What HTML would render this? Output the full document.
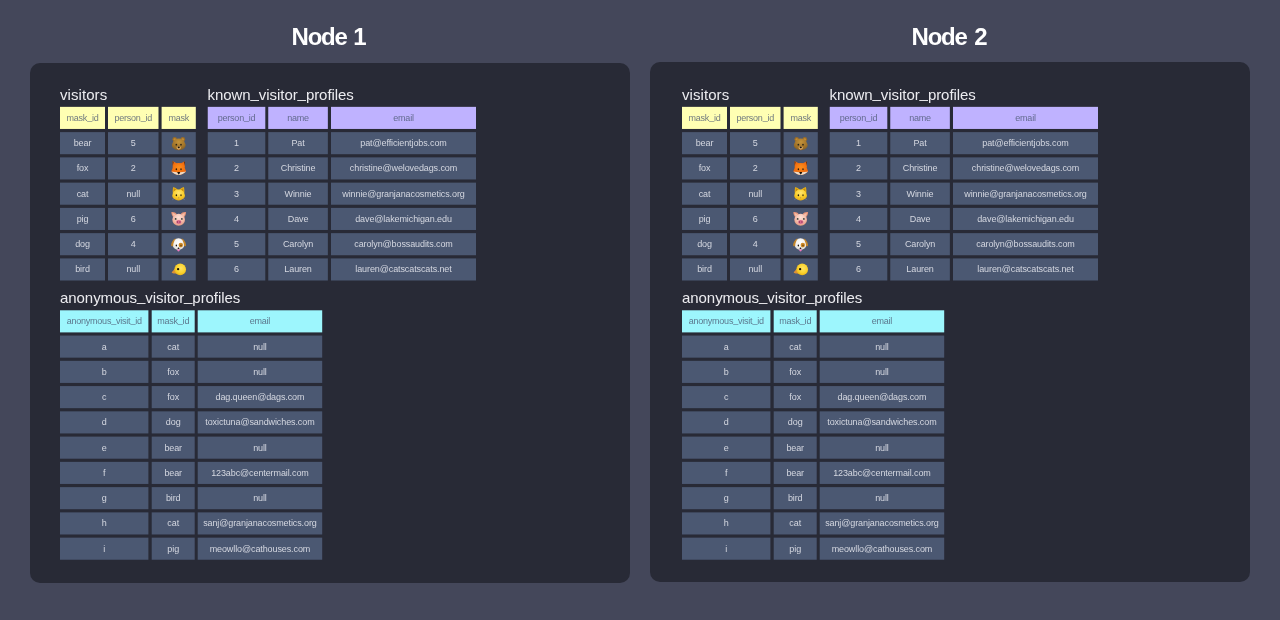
<!DOCTYPE html>
<html lang="en"><head><meta charset="utf-8"><title>Nodes</title>
<style>
*{box-sizing:border-box;margin:0;padding:0}
html,body{width:1280px;height:620px;overflow:hidden}
body{background:#44475a;font-family:"Liberation Sans",sans-serif;position:relative}
svg.bg{position:absolute;left:0;top:0;width:1280px;height:620px}
.node{position:absolute;font-weight:bold;font-size:24px;line-height:30px;color:#fff;letter-spacing:-1.2px;white-space:nowrap}
.t{position:absolute;font-size:15px;line-height:18px;color:#ececf0;white-space:nowrap;letter-spacing:-.06px}
.c{position:absolute;height:22px;line-height:22px;text-align:center;font-size:9px;white-space:nowrap;overflow:hidden}
.d{color:#d4d7e0;letter-spacing:-.1px}
.h{color:rgba(75,88,114,.8);letter-spacing:-.22px}
.u{position:relative;top:-1px}
.t .u{top:-1.7px}
</style></head>
<body>
<svg class="bg" viewBox="0 0 1280 620">
<defs>
<radialGradient id="gBear" cx=".5" cy=".3" r=".75"><stop offset="0" stop-color="#c4933a"/><stop offset=".6" stop-color="#a2742a"/><stop offset="1" stop-color="#7d5a22"/></radialGradient>
<radialGradient id="gFox" cx=".5" cy=".35" r=".7"><stop offset="0" stop-color="#fb8f1c"/><stop offset=".6" stop-color="#f4700f"/><stop offset="1" stop-color="#d9560c"/></radialGradient>
<radialGradient id="gCat" cx=".5" cy=".3" r=".75"><stop offset="0" stop-color="#ffe672"/><stop offset=".55" stop-color="#fbcf2a"/><stop offset="1" stop-color="#e0a412"/></radialGradient>
<radialGradient id="gPig" cx=".5" cy=".3" r=".75"><stop offset="0" stop-color="#fde3d8"/><stop offset=".6" stop-color="#f4b9a6"/><stop offset="1" stop-color="#e0927a"/></radialGradient>
<radialGradient id="gDog" cx=".5" cy=".35" r=".7"><stop offset="0" stop-color="#ffffff"/><stop offset=".65" stop-color="#f1eeea"/><stop offset="1" stop-color="#c9c2ba"/></radialGradient>
<radialGradient id="gBird" cx=".55" cy=".4" r=".65"><stop offset="0" stop-color="#ffe563"/><stop offset=".6" stop-color="#fbd22d"/><stop offset="1" stop-color="#e6ac12"/></radialGradient>
</defs>
<rect x="30" y="63" width="600" height="520" rx="10" ry="10" fill="#282a36"/>
<rect x="60.00" y="106.85" width="45.00" height="22.1" fill="#ffffb3"/>
<rect x="108.00" y="106.85" width="50.50" height="22.1" fill="#ffffb3"/>
<rect x="161.60" y="106.85" width="34.20" height="22.1" fill="#ffffb3"/>
<rect x="60.00" y="132.11" width="45.00" height="22.1" fill="#4b5872"/>
<rect x="108.00" y="132.11" width="50.50" height="22.1" fill="#4b5872"/>
<rect x="161.60" y="132.11" width="34.20" height="22.1" fill="#4b5872"/>
<rect x="60.00" y="157.37" width="45.00" height="22.1" fill="#4b5872"/>
<rect x="108.00" y="157.37" width="50.50" height="22.1" fill="#4b5872"/>
<rect x="161.60" y="157.37" width="34.20" height="22.1" fill="#4b5872"/>
<rect x="60.00" y="182.63" width="45.00" height="22.1" fill="#4b5872"/>
<rect x="108.00" y="182.63" width="50.50" height="22.1" fill="#4b5872"/>
<rect x="161.60" y="182.63" width="34.20" height="22.1" fill="#4b5872"/>
<rect x="60.00" y="207.89" width="45.00" height="22.1" fill="#4b5872"/>
<rect x="108.00" y="207.89" width="50.50" height="22.1" fill="#4b5872"/>
<rect x="161.60" y="207.89" width="34.20" height="22.1" fill="#4b5872"/>
<rect x="60.00" y="233.15" width="45.00" height="22.1" fill="#4b5872"/>
<rect x="108.00" y="233.15" width="50.50" height="22.1" fill="#4b5872"/>
<rect x="161.60" y="233.15" width="34.20" height="22.1" fill="#4b5872"/>
<rect x="60.00" y="258.41" width="45.00" height="22.1" fill="#4b5872"/>
<rect x="108.00" y="258.41" width="50.50" height="22.1" fill="#4b5872"/>
<rect x="161.60" y="258.41" width="34.20" height="22.1" fill="#4b5872"/>
<rect x="207.75" y="106.85" width="57.55" height="22.1" fill="#bfb2ff"/>
<rect x="268.25" y="106.85" width="59.60" height="22.1" fill="#bfb2ff"/>
<rect x="331.00" y="106.85" width="145.00" height="22.1" fill="#bfb2ff"/>
<rect x="207.75" y="132.11" width="57.55" height="22.1" fill="#4b5872"/>
<rect x="268.25" y="132.11" width="59.60" height="22.1" fill="#4b5872"/>
<rect x="331.00" y="132.11" width="145.00" height="22.1" fill="#4b5872"/>
<rect x="207.75" y="157.37" width="57.55" height="22.1" fill="#4b5872"/>
<rect x="268.25" y="157.37" width="59.60" height="22.1" fill="#4b5872"/>
<rect x="331.00" y="157.37" width="145.00" height="22.1" fill="#4b5872"/>
<rect x="207.75" y="182.63" width="57.55" height="22.1" fill="#4b5872"/>
<rect x="268.25" y="182.63" width="59.60" height="22.1" fill="#4b5872"/>
<rect x="331.00" y="182.63" width="145.00" height="22.1" fill="#4b5872"/>
<rect x="207.75" y="207.89" width="57.55" height="22.1" fill="#4b5872"/>
<rect x="268.25" y="207.89" width="59.60" height="22.1" fill="#4b5872"/>
<rect x="331.00" y="207.89" width="145.00" height="22.1" fill="#4b5872"/>
<rect x="207.75" y="233.15" width="57.55" height="22.1" fill="#4b5872"/>
<rect x="268.25" y="233.15" width="59.60" height="22.1" fill="#4b5872"/>
<rect x="331.00" y="233.15" width="145.00" height="22.1" fill="#4b5872"/>
<rect x="207.75" y="258.41" width="57.55" height="22.1" fill="#4b5872"/>
<rect x="268.25" y="258.41" width="59.60" height="22.1" fill="#4b5872"/>
<rect x="331.00" y="258.41" width="145.00" height="22.1" fill="#4b5872"/>
<rect x="60.00" y="310.30" width="88.40" height="22.1" fill="#9df6fd"/>
<rect x="151.70" y="310.30" width="43.00" height="22.1" fill="#9df6fd"/>
<rect x="197.70" y="310.30" width="124.50" height="22.1" fill="#9df6fd"/>
<rect x="60.00" y="335.56" width="88.40" height="22.1" fill="#4b5872"/>
<rect x="151.70" y="335.56" width="43.00" height="22.1" fill="#4b5872"/>
<rect x="197.70" y="335.56" width="124.50" height="22.1" fill="#4b5872"/>
<rect x="60.00" y="360.82" width="88.40" height="22.1" fill="#4b5872"/>
<rect x="151.70" y="360.82" width="43.00" height="22.1" fill="#4b5872"/>
<rect x="197.70" y="360.82" width="124.50" height="22.1" fill="#4b5872"/>
<rect x="60.00" y="386.08" width="88.40" height="22.1" fill="#4b5872"/>
<rect x="151.70" y="386.08" width="43.00" height="22.1" fill="#4b5872"/>
<rect x="197.70" y="386.08" width="124.50" height="22.1" fill="#4b5872"/>
<rect x="60.00" y="411.34" width="88.40" height="22.1" fill="#4b5872"/>
<rect x="151.70" y="411.34" width="43.00" height="22.1" fill="#4b5872"/>
<rect x="197.70" y="411.34" width="124.50" height="22.1" fill="#4b5872"/>
<rect x="60.00" y="436.60" width="88.40" height="22.1" fill="#4b5872"/>
<rect x="151.70" y="436.60" width="43.00" height="22.1" fill="#4b5872"/>
<rect x="197.70" y="436.60" width="124.50" height="22.1" fill="#4b5872"/>
<rect x="60.00" y="461.86" width="88.40" height="22.1" fill="#4b5872"/>
<rect x="151.70" y="461.86" width="43.00" height="22.1" fill="#4b5872"/>
<rect x="197.70" y="461.86" width="124.50" height="22.1" fill="#4b5872"/>
<rect x="60.00" y="487.12" width="88.40" height="22.1" fill="#4b5872"/>
<rect x="151.70" y="487.12" width="43.00" height="22.1" fill="#4b5872"/>
<rect x="197.70" y="487.12" width="124.50" height="22.1" fill="#4b5872"/>
<rect x="60.00" y="512.38" width="88.40" height="22.1" fill="#4b5872"/>
<rect x="151.70" y="512.38" width="43.00" height="22.1" fill="#4b5872"/>
<rect x="197.70" y="512.38" width="124.50" height="22.1" fill="#4b5872"/>
<rect x="60.00" y="537.64" width="88.40" height="22.1" fill="#4b5872"/>
<rect x="151.70" y="537.64" width="43.00" height="22.1" fill="#4b5872"/>
<rect x="197.70" y="537.64" width="124.50" height="22.1" fill="#4b5872"/>
<rect x="650" y="62" width="600" height="520" rx="10" ry="10" fill="#282a36"/>
<rect x="682.00" y="106.85" width="45.00" height="22.1" fill="#ffffb3"/>
<rect x="730.00" y="106.85" width="50.50" height="22.1" fill="#ffffb3"/>
<rect x="783.60" y="106.85" width="34.20" height="22.1" fill="#ffffb3"/>
<rect x="682.00" y="132.11" width="45.00" height="22.1" fill="#4b5872"/>
<rect x="730.00" y="132.11" width="50.50" height="22.1" fill="#4b5872"/>
<rect x="783.60" y="132.11" width="34.20" height="22.1" fill="#4b5872"/>
<rect x="682.00" y="157.37" width="45.00" height="22.1" fill="#4b5872"/>
<rect x="730.00" y="157.37" width="50.50" height="22.1" fill="#4b5872"/>
<rect x="783.60" y="157.37" width="34.20" height="22.1" fill="#4b5872"/>
<rect x="682.00" y="182.63" width="45.00" height="22.1" fill="#4b5872"/>
<rect x="730.00" y="182.63" width="50.50" height="22.1" fill="#4b5872"/>
<rect x="783.60" y="182.63" width="34.20" height="22.1" fill="#4b5872"/>
<rect x="682.00" y="207.89" width="45.00" height="22.1" fill="#4b5872"/>
<rect x="730.00" y="207.89" width="50.50" height="22.1" fill="#4b5872"/>
<rect x="783.60" y="207.89" width="34.20" height="22.1" fill="#4b5872"/>
<rect x="682.00" y="233.15" width="45.00" height="22.1" fill="#4b5872"/>
<rect x="730.00" y="233.15" width="50.50" height="22.1" fill="#4b5872"/>
<rect x="783.60" y="233.15" width="34.20" height="22.1" fill="#4b5872"/>
<rect x="682.00" y="258.41" width="45.00" height="22.1" fill="#4b5872"/>
<rect x="730.00" y="258.41" width="50.50" height="22.1" fill="#4b5872"/>
<rect x="783.60" y="258.41" width="34.20" height="22.1" fill="#4b5872"/>
<rect x="829.75" y="106.85" width="57.55" height="22.1" fill="#bfb2ff"/>
<rect x="890.25" y="106.85" width="59.60" height="22.1" fill="#bfb2ff"/>
<rect x="953.00" y="106.85" width="145.00" height="22.1" fill="#bfb2ff"/>
<rect x="829.75" y="132.11" width="57.55" height="22.1" fill="#4b5872"/>
<rect x="890.25" y="132.11" width="59.60" height="22.1" fill="#4b5872"/>
<rect x="953.00" y="132.11" width="145.00" height="22.1" fill="#4b5872"/>
<rect x="829.75" y="157.37" width="57.55" height="22.1" fill="#4b5872"/>
<rect x="890.25" y="157.37" width="59.60" height="22.1" fill="#4b5872"/>
<rect x="953.00" y="157.37" width="145.00" height="22.1" fill="#4b5872"/>
<rect x="829.75" y="182.63" width="57.55" height="22.1" fill="#4b5872"/>
<rect x="890.25" y="182.63" width="59.60" height="22.1" fill="#4b5872"/>
<rect x="953.00" y="182.63" width="145.00" height="22.1" fill="#4b5872"/>
<rect x="829.75" y="207.89" width="57.55" height="22.1" fill="#4b5872"/>
<rect x="890.25" y="207.89" width="59.60" height="22.1" fill="#4b5872"/>
<rect x="953.00" y="207.89" width="145.00" height="22.1" fill="#4b5872"/>
<rect x="829.75" y="233.15" width="57.55" height="22.1" fill="#4b5872"/>
<rect x="890.25" y="233.15" width="59.60" height="22.1" fill="#4b5872"/>
<rect x="953.00" y="233.15" width="145.00" height="22.1" fill="#4b5872"/>
<rect x="829.75" y="258.41" width="57.55" height="22.1" fill="#4b5872"/>
<rect x="890.25" y="258.41" width="59.60" height="22.1" fill="#4b5872"/>
<rect x="953.00" y="258.41" width="145.00" height="22.1" fill="#4b5872"/>
<rect x="682.00" y="310.30" width="88.40" height="22.1" fill="#9df6fd"/>
<rect x="773.70" y="310.30" width="43.00" height="22.1" fill="#9df6fd"/>
<rect x="819.70" y="310.30" width="124.50" height="22.1" fill="#9df6fd"/>
<rect x="682.00" y="335.56" width="88.40" height="22.1" fill="#4b5872"/>
<rect x="773.70" y="335.56" width="43.00" height="22.1" fill="#4b5872"/>
<rect x="819.70" y="335.56" width="124.50" height="22.1" fill="#4b5872"/>
<rect x="682.00" y="360.82" width="88.40" height="22.1" fill="#4b5872"/>
<rect x="773.70" y="360.82" width="43.00" height="22.1" fill="#4b5872"/>
<rect x="819.70" y="360.82" width="124.50" height="22.1" fill="#4b5872"/>
<rect x="682.00" y="386.08" width="88.40" height="22.1" fill="#4b5872"/>
<rect x="773.70" y="386.08" width="43.00" height="22.1" fill="#4b5872"/>
<rect x="819.70" y="386.08" width="124.50" height="22.1" fill="#4b5872"/>
<rect x="682.00" y="411.34" width="88.40" height="22.1" fill="#4b5872"/>
<rect x="773.70" y="411.34" width="43.00" height="22.1" fill="#4b5872"/>
<rect x="819.70" y="411.34" width="124.50" height="22.1" fill="#4b5872"/>
<rect x="682.00" y="436.60" width="88.40" height="22.1" fill="#4b5872"/>
<rect x="773.70" y="436.60" width="43.00" height="22.1" fill="#4b5872"/>
<rect x="819.70" y="436.60" width="124.50" height="22.1" fill="#4b5872"/>
<rect x="682.00" y="461.86" width="88.40" height="22.1" fill="#4b5872"/>
<rect x="773.70" y="461.86" width="43.00" height="22.1" fill="#4b5872"/>
<rect x="819.70" y="461.86" width="124.50" height="22.1" fill="#4b5872"/>
<rect x="682.00" y="487.12" width="88.40" height="22.1" fill="#4b5872"/>
<rect x="773.70" y="487.12" width="43.00" height="22.1" fill="#4b5872"/>
<rect x="819.70" y="487.12" width="124.50" height="22.1" fill="#4b5872"/>
<rect x="682.00" y="512.38" width="88.40" height="22.1" fill="#4b5872"/>
<rect x="773.70" y="512.38" width="43.00" height="22.1" fill="#4b5872"/>
<rect x="819.70" y="512.38" width="124.50" height="22.1" fill="#4b5872"/>
<rect x="682.00" y="537.64" width="88.40" height="22.1" fill="#4b5872"/>
<rect x="773.70" y="537.64" width="43.00" height="22.1" fill="#4b5872"/>
<rect x="819.70" y="537.64" width="124.50" height="22.1" fill="#4b5872"/>
<g transform="translate(170.70 135.16)"><circle cx="4" cy="4.1" r="2.25" fill="#9a6c27"/><circle cx="12.1" cy="4.1" r="2.25" fill="#9a6c27"/><circle cx="4.1" cy="4.3" r="1.25" fill="#c48c34"/><circle cx="12" cy="4.3" r="1.25" fill="#c48c34"/><path d="M8.05 3.3 C11.4 3.3 13.6 5.4 14.3 8 C15.3 9 15.1 11.4 13.9 12.6 C12.6 14.1 10.4 15.1 8.05 15.1 C5.7 15.1 3.5 14.1 2.2 12.6 C1 11.4 .8 9 1.8 8 C2.5 5.4 4.7 3.3 8.05 3.3 Z" fill="url(#gBear)"/><ellipse cx="8.05" cy="12.7" rx="2.2" ry="1.7" fill="#d7a764"/><circle cx="5.65" cy="9.5" r=".85" fill="#2a2418"/><circle cx="10.3" cy="9.5" r=".85" fill="#2a2418"/><ellipse cx="8.05" cy="12.2" rx="1.05" ry=".9" fill="#17110a"/><ellipse cx="8.05" cy="14.3" rx=".7" ry=".45" fill="#d98a5a"/></g>
<g transform="translate(170.70 160.42)"><path d="M1.9 .7 L6.8 3.4 L2 7.2 Z" fill="#ef6d10"/><path d="M14.2 .9 L9.3 3.4 L14.2 7.2 Z" fill="#ef6d10"/><path d="M1.9 .7 L3 1.5 L2 5.5 Z" fill="#5a2c12"/><path d="M14.2 .9 L13.1 1.6 L14.2 5.5 Z" fill="#5a2c12"/><path d="M8.05 2.7 C11.2 2.7 13.5 4.8 14.1 7.4 C14.5 9 15.5 10.2 15.4 11.2 C13.6 12.9 10.4 14.7 8.05 14.7 C5.7 14.7 2.5 12.9 .7 11.2 C.6 10.2 1.6 9 2 7.4 C2.6 4.8 4.9 2.7 8.05 2.7 Z" fill="url(#gFox)"/><path d="M.7 11.2 C2.8 11.4 5.6 11.7 8.05 12.6 C10.5 11.7 13.3 11.4 15.4 11.2 C13.6 12.9 10.4 14.7 8.05 14.7 C5.7 14.7 2.5 12.9 .7 11.2 Z" fill="#eadccb"/><ellipse cx="5.65" cy="8.8" rx=".75" ry=".95" fill="#2a1a0c"/><ellipse cx="10.3" cy="8.8" rx=".75" ry=".95" fill="#3a2410"/><path d="M6.75 11.9 L9.4 11.9 L8.05 14.3 Z" fill="#140c06"/><ellipse cx="8.05" cy="12.4" rx="1.3" ry=".7" fill="#140c06"/></g>
<g transform="translate(170.70 185.68)"><path d="M2.5 1.2 C4.2 1.6 6 2.8 7.2 4.2 L2.1 7.4 C1.9 5.2 2 3 2.5 1.2 Z" fill="#e4ad18"/><path d="M13.2 1.2 C11.5 1.6 9.7 2.8 8.5 4.2 L13.6 7.4 C13.8 5.2 13.7 3 13.2 1.2 Z" fill="#e4ad18"/><path d="M3.2 2.6 L5.8 4.4 L3 6.2 Z" fill="#c48c10"/><path d="M12.5 2.6 L9.9 4.4 L12.7 6.2 Z" fill="#c48c10"/><path d="M7.9 3.9 C11.2 3.9 13.5 6 13.9 8.6 C14.6 9.8 14.3 11.6 13.2 12.6 C11.9 13.8 9.9 14.7 7.9 14.7 C5.9 14.7 3.9 13.8 2.6 12.6 C1.5 11.6 1.2 9.8 1.9 8.6 C2.3 6 4.6 3.9 7.9 3.9 Z" fill="url(#gCat)"/><ellipse cx="5.65" cy="9.5" rx=".75" ry="1.05" fill="#2a200a"/><ellipse cx="10.3" cy="9.5" rx=".75" ry="1.05" fill="#4a3e12"/><path d="M7.25 11.7 L8.65 11.7 L7.95 12.9 Z" fill="#9a7466"/><path d="M1.4 14.2 L4 12.8 M14.4 14.2 L11.8 12.8" stroke="#c9cbd6" stroke-width=".35" opacity=".55"/></g>
<g transform="translate(170.70 210.94)"><path d="M.6 1.3 C2.6 .8 5.1 1.6 6 3.2 L2.8 6.4 C1.4 5.1 .7 3 .6 1.3 Z" fill="#e8957a"/><path d="M15.4 1.3 C13.4 .8 10.9 1.6 10 3.2 L13.2 6.4 C14.6 5.1 15.3 3 15.4 1.3 Z" fill="#e8957a"/><path d="M1.8 2.3 C3 2.2 4.2 2.8 4.8 3.6 L3 5.3 C2.3 4.5 1.9 3.4 1.8 2.3 Z" fill="#f5bfa8"/><path d="M14.2 2.3 C13 2.2 11.8 2.8 11.2 3.6 L13 5.3 C13.7 4.5 14.1 3.4 14.2 2.3 Z" fill="#f5bfa8"/><ellipse cx="7.95" cy="8.8" rx="6.35" ry="5.9" fill="url(#gPig)"/><ellipse cx="8.05" cy="11" rx="2.7" ry="1.95" fill="#d96a8e"/><ellipse cx="6.9" cy="11" rx=".55" ry=".75" fill="#7a2745"/><ellipse cx="9.2" cy="11" rx=".55" ry=".75" fill="#7a2745"/><circle cx="4.95" cy="8" r=".9" fill="#34423a"/><circle cx="11.15" cy="8" r=".9" fill="#34423a"/></g>
<g transform="translate(170.70 236.20)"><ellipse cx="7.8" cy="8" rx="5.9" ry="5.9" fill="url(#gDog)"/><path d="M5.2 2.4 C2.6 3 .6 6 .4 9.2 C.9 10.1 1.9 10.3 2.4 9.8 C2.6 7 3.6 4.4 5.2 2.4 Z" fill="#c4862a"/><path d="M10.6 2.4 C13.2 3 15.2 6 15.4 9.2 C14.9 10.1 13.9 10.3 13.4 9.8 C13.2 7 12.2 4.4 10.6 2.4 Z" fill="#c4862a"/><ellipse cx="10.1" cy="8.9" rx="2.2" ry="2.4" fill="#cf8a25"/><ellipse cx="5.65" cy="9.3" rx=".7" ry="1" fill="#1c140c"/><ellipse cx="10.3" cy="9.3" rx=".75" ry="1" fill="#6a4412"/><ellipse cx="7.8" cy="12" rx=".95" ry=".8" fill="#130e0a"/><ellipse cx="7.8" cy="14.1" rx="1.25" ry="1.15" fill="#f27ac0"/></g>
<g transform="translate(170.70 261.46)"><path d="M.9 11.2 C1.8 9.6 3.2 8 4.8 7 L6.4 12 C4.6 12.2 2.6 11.9 .9 11.2 Z" fill="#dc9036"/><circle cx="9.5" cy="8" r="5.85" fill="url(#gBird)"/><circle cx="7.4" cy="7.7" r="1.15" fill="#17120a"/></g>
<g transform="translate(792.70 135.16)"><circle cx="4" cy="4.1" r="2.25" fill="#9a6c27"/><circle cx="12.1" cy="4.1" r="2.25" fill="#9a6c27"/><circle cx="4.1" cy="4.3" r="1.25" fill="#c48c34"/><circle cx="12" cy="4.3" r="1.25" fill="#c48c34"/><path d="M8.05 3.3 C11.4 3.3 13.6 5.4 14.3 8 C15.3 9 15.1 11.4 13.9 12.6 C12.6 14.1 10.4 15.1 8.05 15.1 C5.7 15.1 3.5 14.1 2.2 12.6 C1 11.4 .8 9 1.8 8 C2.5 5.4 4.7 3.3 8.05 3.3 Z" fill="url(#gBear)"/><ellipse cx="8.05" cy="12.7" rx="2.2" ry="1.7" fill="#d7a764"/><circle cx="5.65" cy="9.5" r=".85" fill="#2a2418"/><circle cx="10.3" cy="9.5" r=".85" fill="#2a2418"/><ellipse cx="8.05" cy="12.2" rx="1.05" ry=".9" fill="#17110a"/><ellipse cx="8.05" cy="14.3" rx=".7" ry=".45" fill="#d98a5a"/></g>
<g transform="translate(792.70 160.42)"><path d="M1.9 .7 L6.8 3.4 L2 7.2 Z" fill="#ef6d10"/><path d="M14.2 .9 L9.3 3.4 L14.2 7.2 Z" fill="#ef6d10"/><path d="M1.9 .7 L3 1.5 L2 5.5 Z" fill="#5a2c12"/><path d="M14.2 .9 L13.1 1.6 L14.2 5.5 Z" fill="#5a2c12"/><path d="M8.05 2.7 C11.2 2.7 13.5 4.8 14.1 7.4 C14.5 9 15.5 10.2 15.4 11.2 C13.6 12.9 10.4 14.7 8.05 14.7 C5.7 14.7 2.5 12.9 .7 11.2 C.6 10.2 1.6 9 2 7.4 C2.6 4.8 4.9 2.7 8.05 2.7 Z" fill="url(#gFox)"/><path d="M.7 11.2 C2.8 11.4 5.6 11.7 8.05 12.6 C10.5 11.7 13.3 11.4 15.4 11.2 C13.6 12.9 10.4 14.7 8.05 14.7 C5.7 14.7 2.5 12.9 .7 11.2 Z" fill="#eadccb"/><ellipse cx="5.65" cy="8.8" rx=".75" ry=".95" fill="#2a1a0c"/><ellipse cx="10.3" cy="8.8" rx=".75" ry=".95" fill="#3a2410"/><path d="M6.75 11.9 L9.4 11.9 L8.05 14.3 Z" fill="#140c06"/><ellipse cx="8.05" cy="12.4" rx="1.3" ry=".7" fill="#140c06"/></g>
<g transform="translate(792.70 185.68)"><path d="M2.5 1.2 C4.2 1.6 6 2.8 7.2 4.2 L2.1 7.4 C1.9 5.2 2 3 2.5 1.2 Z" fill="#e4ad18"/><path d="M13.2 1.2 C11.5 1.6 9.7 2.8 8.5 4.2 L13.6 7.4 C13.8 5.2 13.7 3 13.2 1.2 Z" fill="#e4ad18"/><path d="M3.2 2.6 L5.8 4.4 L3 6.2 Z" fill="#c48c10"/><path d="M12.5 2.6 L9.9 4.4 L12.7 6.2 Z" fill="#c48c10"/><path d="M7.9 3.9 C11.2 3.9 13.5 6 13.9 8.6 C14.6 9.8 14.3 11.6 13.2 12.6 C11.9 13.8 9.9 14.7 7.9 14.7 C5.9 14.7 3.9 13.8 2.6 12.6 C1.5 11.6 1.2 9.8 1.9 8.6 C2.3 6 4.6 3.9 7.9 3.9 Z" fill="url(#gCat)"/><ellipse cx="5.65" cy="9.5" rx=".75" ry="1.05" fill="#2a200a"/><ellipse cx="10.3" cy="9.5" rx=".75" ry="1.05" fill="#4a3e12"/><path d="M7.25 11.7 L8.65 11.7 L7.95 12.9 Z" fill="#9a7466"/><path d="M1.4 14.2 L4 12.8 M14.4 14.2 L11.8 12.8" stroke="#c9cbd6" stroke-width=".35" opacity=".55"/></g>
<g transform="translate(792.70 210.94)"><path d="M.6 1.3 C2.6 .8 5.1 1.6 6 3.2 L2.8 6.4 C1.4 5.1 .7 3 .6 1.3 Z" fill="#e8957a"/><path d="M15.4 1.3 C13.4 .8 10.9 1.6 10 3.2 L13.2 6.4 C14.6 5.1 15.3 3 15.4 1.3 Z" fill="#e8957a"/><path d="M1.8 2.3 C3 2.2 4.2 2.8 4.8 3.6 L3 5.3 C2.3 4.5 1.9 3.4 1.8 2.3 Z" fill="#f5bfa8"/><path d="M14.2 2.3 C13 2.2 11.8 2.8 11.2 3.6 L13 5.3 C13.7 4.5 14.1 3.4 14.2 2.3 Z" fill="#f5bfa8"/><ellipse cx="7.95" cy="8.8" rx="6.35" ry="5.9" fill="url(#gPig)"/><ellipse cx="8.05" cy="11" rx="2.7" ry="1.95" fill="#d96a8e"/><ellipse cx="6.9" cy="11" rx=".55" ry=".75" fill="#7a2745"/><ellipse cx="9.2" cy="11" rx=".55" ry=".75" fill="#7a2745"/><circle cx="4.95" cy="8" r=".9" fill="#34423a"/><circle cx="11.15" cy="8" r=".9" fill="#34423a"/></g>
<g transform="translate(792.70 236.20)"><ellipse cx="7.8" cy="8" rx="5.9" ry="5.9" fill="url(#gDog)"/><path d="M5.2 2.4 C2.6 3 .6 6 .4 9.2 C.9 10.1 1.9 10.3 2.4 9.8 C2.6 7 3.6 4.4 5.2 2.4 Z" fill="#c4862a"/><path d="M10.6 2.4 C13.2 3 15.2 6 15.4 9.2 C14.9 10.1 13.9 10.3 13.4 9.8 C13.2 7 12.2 4.4 10.6 2.4 Z" fill="#c4862a"/><ellipse cx="10.1" cy="8.9" rx="2.2" ry="2.4" fill="#cf8a25"/><ellipse cx="5.65" cy="9.3" rx=".7" ry="1" fill="#1c140c"/><ellipse cx="10.3" cy="9.3" rx=".75" ry="1" fill="#6a4412"/><ellipse cx="7.8" cy="12" rx=".95" ry=".8" fill="#130e0a"/><ellipse cx="7.8" cy="14.1" rx="1.25" ry="1.15" fill="#f27ac0"/></g>
<g transform="translate(792.70 261.46)"><path d="M.9 11.2 C1.8 9.6 3.2 8 4.8 7 L6.4 12 C4.6 12.2 2.6 11.9 .9 11.2 Z" fill="#dc9036"/><circle cx="9.5" cy="8" r="5.85" fill="url(#gBird)"/><circle cx="7.4" cy="7.7" r="1.15" fill="#17120a"/></g>
</svg>
<div class="node" style="left:291.5px;top:21.6px;word-spacing:1px">Node 1</div>
<div class="t" style="left:60px;top:86px;letter-spacing:.07px">visitors</div>
<div class="t" style="left:207.5px;top:86px">known<span class="u">_</span>visitor<span class="u">_</span>profiles</div>
<div class="t" style="left:60px;top:289px">anonymous<span class="u">_</span>visitor<span class="u">_</span>profiles</div>
<div class="c h" style="left:60.00px;top:106.85px;width:45.00px">mask<span class="u">_</span>id</div>
<div class="c h" style="left:108.00px;top:106.85px;width:50.50px">person<span class="u">_</span>id</div>
<div class="c h" style="left:161.60px;top:106.85px;width:34.20px">mask</div>
<div class="c d" style="left:60.00px;top:132.11px;width:45.00px">bear</div>
<div class="c d" style="left:108.00px;top:132.11px;width:50.50px">5</div>
<div class="c d" style="left:60.00px;top:157.37px;width:45.00px">fox</div>
<div class="c d" style="left:108.00px;top:157.37px;width:50.50px">2</div>
<div class="c d" style="left:60.00px;top:182.63px;width:45.00px">cat</div>
<div class="c d" style="left:108.00px;top:182.63px;width:50.50px">null</div>
<div class="c d" style="left:60.00px;top:207.89px;width:45.00px">pig</div>
<div class="c d" style="left:108.00px;top:207.89px;width:50.50px">6</div>
<div class="c d" style="left:60.00px;top:233.15px;width:45.00px">dog</div>
<div class="c d" style="left:108.00px;top:233.15px;width:50.50px">4</div>
<div class="c d" style="left:60.00px;top:258.41px;width:45.00px">bird</div>
<div class="c d" style="left:108.00px;top:258.41px;width:50.50px">null</div>
<div class="c h" style="left:207.75px;top:106.85px;width:57.55px">person<span class="u">_</span>id</div>
<div class="c h" style="left:268.25px;top:106.85px;width:59.60px">name</div>
<div class="c h" style="left:331.00px;top:106.85px;width:145.00px">email</div>
<div class="c d" style="left:207.75px;top:132.11px;width:57.55px">1</div>
<div class="c d" style="left:268.25px;top:132.11px;width:59.60px">Pat</div>
<div class="c d" style="left:331.00px;top:132.11px;width:145.00px">pat@efficientjobs.com</div>
<div class="c d" style="left:207.75px;top:157.37px;width:57.55px">2</div>
<div class="c d" style="left:268.25px;top:157.37px;width:59.60px">Christine</div>
<div class="c d" style="left:331.00px;top:157.37px;width:145.00px">christine@welovedags.com</div>
<div class="c d" style="left:207.75px;top:182.63px;width:57.55px">3</div>
<div class="c d" style="left:268.25px;top:182.63px;width:59.60px">Winnie</div>
<div class="c d" style="left:331.00px;top:182.63px;width:145.00px">winnie@granjanacosmetics.org</div>
<div class="c d" style="left:207.75px;top:207.89px;width:57.55px">4</div>
<div class="c d" style="left:268.25px;top:207.89px;width:59.60px">Dave</div>
<div class="c d" style="left:331.00px;top:207.89px;width:145.00px">dave@lakemichigan.edu</div>
<div class="c d" style="left:207.75px;top:233.15px;width:57.55px">5</div>
<div class="c d" style="left:268.25px;top:233.15px;width:59.60px">Carolyn</div>
<div class="c d" style="left:331.00px;top:233.15px;width:145.00px">carolyn@bossaudits.com</div>
<div class="c d" style="left:207.75px;top:258.41px;width:57.55px">6</div>
<div class="c d" style="left:268.25px;top:258.41px;width:59.60px">Lauren</div>
<div class="c d" style="left:331.00px;top:258.41px;width:145.00px">lauren@catscatscats.net</div>
<div class="c h" style="left:60.00px;top:310.30px;width:88.40px">anonymous<span class="u">_</span>visit<span class="u">_</span>id</div>
<div class="c h" style="left:151.70px;top:310.30px;width:43.00px">mask<span class="u">_</span>id</div>
<div class="c h" style="left:197.70px;top:310.30px;width:124.50px">email</div>
<div class="c d" style="left:60.00px;top:335.56px;width:88.40px">a</div>
<div class="c d" style="left:151.70px;top:335.56px;width:43.00px">cat</div>
<div class="c d" style="left:197.70px;top:335.56px;width:124.50px">null</div>
<div class="c d" style="left:60.00px;top:360.82px;width:88.40px">b</div>
<div class="c d" style="left:151.70px;top:360.82px;width:43.00px">fox</div>
<div class="c d" style="left:197.70px;top:360.82px;width:124.50px">null</div>
<div class="c d" style="left:60.00px;top:386.08px;width:88.40px">c</div>
<div class="c d" style="left:151.70px;top:386.08px;width:43.00px">fox</div>
<div class="c d" style="left:197.70px;top:386.08px;width:124.50px">dag.queen@dags.com</div>
<div class="c d" style="left:60.00px;top:411.34px;width:88.40px">d</div>
<div class="c d" style="left:151.70px;top:411.34px;width:43.00px">dog</div>
<div class="c d" style="left:197.70px;top:411.34px;width:124.50px">toxictuna@sandwiches.com</div>
<div class="c d" style="left:60.00px;top:436.60px;width:88.40px">e</div>
<div class="c d" style="left:151.70px;top:436.60px;width:43.00px">bear</div>
<div class="c d" style="left:197.70px;top:436.60px;width:124.50px">null</div>
<div class="c d" style="left:60.00px;top:461.86px;width:88.40px">f</div>
<div class="c d" style="left:151.70px;top:461.86px;width:43.00px">bear</div>
<div class="c d" style="left:197.70px;top:461.86px;width:124.50px">123abc@centermail.com</div>
<div class="c d" style="left:60.00px;top:487.12px;width:88.40px">g</div>
<div class="c d" style="left:151.70px;top:487.12px;width:43.00px">bird</div>
<div class="c d" style="left:197.70px;top:487.12px;width:124.50px">null</div>
<div class="c d" style="left:60.00px;top:512.38px;width:88.40px">h</div>
<div class="c d" style="left:151.70px;top:512.38px;width:43.00px">cat</div>
<div class="c d" style="left:197.70px;top:512.38px;width:124.50px">sanj@granjanacosmetics.org</div>
<div class="c d" style="left:60.00px;top:537.64px;width:88.40px">i</div>
<div class="c d" style="left:151.70px;top:537.64px;width:43.00px">pig</div>
<div class="c d" style="left:197.70px;top:537.64px;width:124.50px">meowllo@cathouses.com</div>
<div class="node" style="left:911.5px;top:21.6px;word-spacing:2px">Node 2</div>
<div class="t" style="left:682px;top:86px;letter-spacing:.07px">visitors</div>
<div class="t" style="left:829.5px;top:86px">known<span class="u">_</span>visitor<span class="u">_</span>profiles</div>
<div class="t" style="left:682px;top:289px">anonymous<span class="u">_</span>visitor<span class="u">_</span>profiles</div>
<div class="c h" style="left:682.00px;top:106.85px;width:45.00px">mask<span class="u">_</span>id</div>
<div class="c h" style="left:730.00px;top:106.85px;width:50.50px">person<span class="u">_</span>id</div>
<div class="c h" style="left:783.60px;top:106.85px;width:34.20px">mask</div>
<div class="c d" style="left:682.00px;top:132.11px;width:45.00px">bear</div>
<div class="c d" style="left:730.00px;top:132.11px;width:50.50px">5</div>
<div class="c d" style="left:682.00px;top:157.37px;width:45.00px">fox</div>
<div class="c d" style="left:730.00px;top:157.37px;width:50.50px">2</div>
<div class="c d" style="left:682.00px;top:182.63px;width:45.00px">cat</div>
<div class="c d" style="left:730.00px;top:182.63px;width:50.50px">null</div>
<div class="c d" style="left:682.00px;top:207.89px;width:45.00px">pig</div>
<div class="c d" style="left:730.00px;top:207.89px;width:50.50px">6</div>
<div class="c d" style="left:682.00px;top:233.15px;width:45.00px">dog</div>
<div class="c d" style="left:730.00px;top:233.15px;width:50.50px">4</div>
<div class="c d" style="left:682.00px;top:258.41px;width:45.00px">bird</div>
<div class="c d" style="left:730.00px;top:258.41px;width:50.50px">null</div>
<div class="c h" style="left:829.75px;top:106.85px;width:57.55px">person<span class="u">_</span>id</div>
<div class="c h" style="left:890.25px;top:106.85px;width:59.60px">name</div>
<div class="c h" style="left:953.00px;top:106.85px;width:145.00px">email</div>
<div class="c d" style="left:829.75px;top:132.11px;width:57.55px">1</div>
<div class="c d" style="left:890.25px;top:132.11px;width:59.60px">Pat</div>
<div class="c d" style="left:953.00px;top:132.11px;width:145.00px">pat@efficientjobs.com</div>
<div class="c d" style="left:829.75px;top:157.37px;width:57.55px">2</div>
<div class="c d" style="left:890.25px;top:157.37px;width:59.60px">Christine</div>
<div class="c d" style="left:953.00px;top:157.37px;width:145.00px">christine@welovedags.com</div>
<div class="c d" style="left:829.75px;top:182.63px;width:57.55px">3</div>
<div class="c d" style="left:890.25px;top:182.63px;width:59.60px">Winnie</div>
<div class="c d" style="left:953.00px;top:182.63px;width:145.00px">winnie@granjanacosmetics.org</div>
<div class="c d" style="left:829.75px;top:207.89px;width:57.55px">4</div>
<div class="c d" style="left:890.25px;top:207.89px;width:59.60px">Dave</div>
<div class="c d" style="left:953.00px;top:207.89px;width:145.00px">dave@lakemichigan.edu</div>
<div class="c d" style="left:829.75px;top:233.15px;width:57.55px">5</div>
<div class="c d" style="left:890.25px;top:233.15px;width:59.60px">Carolyn</div>
<div class="c d" style="left:953.00px;top:233.15px;width:145.00px">carolyn@bossaudits.com</div>
<div class="c d" style="left:829.75px;top:258.41px;width:57.55px">6</div>
<div class="c d" style="left:890.25px;top:258.41px;width:59.60px">Lauren</div>
<div class="c d" style="left:953.00px;top:258.41px;width:145.00px">lauren@catscatscats.net</div>
<div class="c h" style="left:682.00px;top:310.30px;width:88.40px">anonymous<span class="u">_</span>visit<span class="u">_</span>id</div>
<div class="c h" style="left:773.70px;top:310.30px;width:43.00px">mask<span class="u">_</span>id</div>
<div class="c h" style="left:819.70px;top:310.30px;width:124.50px">email</div>
<div class="c d" style="left:682.00px;top:335.56px;width:88.40px">a</div>
<div class="c d" style="left:773.70px;top:335.56px;width:43.00px">cat</div>
<div class="c d" style="left:819.70px;top:335.56px;width:124.50px">null</div>
<div class="c d" style="left:682.00px;top:360.82px;width:88.40px">b</div>
<div class="c d" style="left:773.70px;top:360.82px;width:43.00px">fox</div>
<div class="c d" style="left:819.70px;top:360.82px;width:124.50px">null</div>
<div class="c d" style="left:682.00px;top:386.08px;width:88.40px">c</div>
<div class="c d" style="left:773.70px;top:386.08px;width:43.00px">fox</div>
<div class="c d" style="left:819.70px;top:386.08px;width:124.50px">dag.queen@dags.com</div>
<div class="c d" style="left:682.00px;top:411.34px;width:88.40px">d</div>
<div class="c d" style="left:773.70px;top:411.34px;width:43.00px">dog</div>
<div class="c d" style="left:819.70px;top:411.34px;width:124.50px">toxictuna@sandwiches.com</div>
<div class="c d" style="left:682.00px;top:436.60px;width:88.40px">e</div>
<div class="c d" style="left:773.70px;top:436.60px;width:43.00px">bear</div>
<div class="c d" style="left:819.70px;top:436.60px;width:124.50px">null</div>
<div class="c d" style="left:682.00px;top:461.86px;width:88.40px">f</div>
<div class="c d" style="left:773.70px;top:461.86px;width:43.00px">bear</div>
<div class="c d" style="left:819.70px;top:461.86px;width:124.50px">123abc@centermail.com</div>
<div class="c d" style="left:682.00px;top:487.12px;width:88.40px">g</div>
<div class="c d" style="left:773.70px;top:487.12px;width:43.00px">bird</div>
<div class="c d" style="left:819.70px;top:487.12px;width:124.50px">null</div>
<div class="c d" style="left:682.00px;top:512.38px;width:88.40px">h</div>
<div class="c d" style="left:773.70px;top:512.38px;width:43.00px">cat</div>
<div class="c d" style="left:819.70px;top:512.38px;width:124.50px">sanj@granjanacosmetics.org</div>
<div class="c d" style="left:682.00px;top:537.64px;width:88.40px">i</div>
<div class="c d" style="left:773.70px;top:537.64px;width:43.00px">pig</div>
<div class="c d" style="left:819.70px;top:537.64px;width:124.50px">meowllo@cathouses.com</div>
</body></html>
